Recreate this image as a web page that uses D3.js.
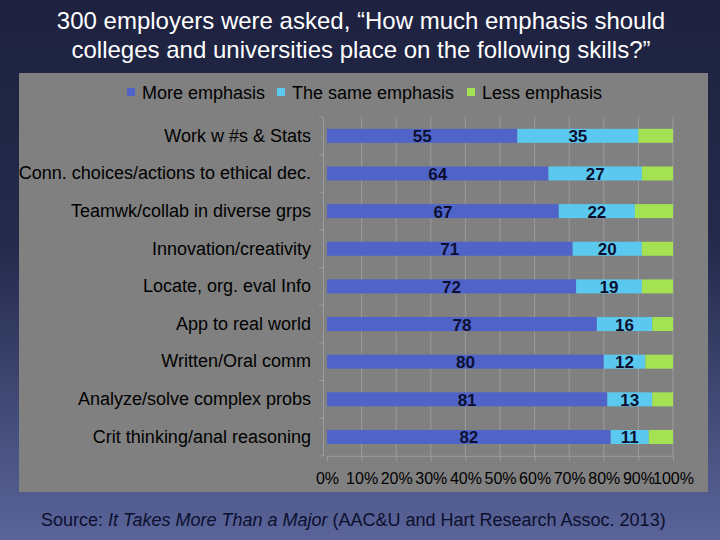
<!DOCTYPE html>
<html><head><meta charset="utf-8">
<script src="https://cdn.jsdelivr.net/npm/d3@7"></script>
<style>html,body{margin:0;padding:0;background:#1f2442;}svg{display:block;}</style>
</head><body>
<script>
const categories = ["Work w #s & Stats","Conn. choices/actions to ethical dec.","Teamwk/collab in diverse grps","Innovation/creativity","Locate, org. eval Info","App to real world","Written/Oral comm","Analyze/solve complex probs","Crit thinking/anal reasoning"];
const seriesNames = ["More emphasis","The same emphasis","Less emphasis"];
const moreEmphasis = [55,64,67,71,72,78,80,81,82];
const sameEmphasis = [35,27,22,20,19,16,12,13,11];
const lessEmphasis = [10,9,11,9,9,6,8,6,7];
const tickValues = [0,10,20,30,40,50,60,70,80,90,100];
const titleLines = ["300 employers were asked, \u201cHow much emphasis should","colleges and universities place on the following skills?\u201d"];
const colors = ["#4f63c8","#5bc9ef","#a4e253"];

const W=720,H=540;
const FONT="Liberation Sans, Arial, sans-serif";
const svg=d3.select("body").append("svg").attr("width",W).attr("height",H);
const defs=svg.append("defs");
const g=defs.append("linearGradient").attr("id","bg").attr("x1",0).attr("y1",0).attr("x2",0).attr("y2",1);
g.append("stop").attr("offset","0%").attr("stop-color","#1e2240");
g.append("stop").attr("offset","45%").attr("stop-color","#242a4b");
g.append("stop").attr("offset","100%").attr("stop-color","#5a6499");
svg.append("rect").attr("width",W).attr("height",H).attr("fill","url(#bg)");

// title
svg.selectAll("text.title").data(titleLines).join("text").attr("class","title")
  .attr("x",361).attr("y",(d,i)=>29+i*29).attr("text-anchor","middle")
  .attr("fill","#ffffff").attr("font-family",FONT).attr("font-size",24)
  .text(d=>d);

// plot panel
svg.append("rect").attr("x",19).attr("y",73).attr("width",689).attr("height",419).attr("fill","#808080");

const x=d3.scaleLinear().domain([0,100]).range([327,673]);
const y=d3.scaleBand().domain(categories).range([117,455.8]);
const barH=14;

// gridlines
svg.append("g").selectAll("line").data(tickValues.slice(1)).join("line")
  .attr("x1",d=>x(d)).attr("x2",d=>x(d)).attr("y1",117).attr("y2",455.8)
  .attr("stroke","#9c9c9c").attr("stroke-width",1);

// x axis
const xAxis=svg.append("g").attr("transform","translate(0,455.8)")
  .call(d3.axisBottom(x).tickValues(tickValues).tickFormat(d=>d+"%").tickSize(5).tickPadding(12));
xAxis.select(".domain").attr("stroke","#9c9c9c");
xAxis.selectAll(".tick line").attr("stroke","#9c9c9c");
xAxis.selectAll("text").attr("fill","#000").attr("font-family",FONT).attr("font-size",16);

// y axis
const yAxis=svg.append("g").attr("transform","translate(323,0)")
  .call(d3.axisLeft(y).tickSize(0).tickPadding(12));
yAxis.select(".domain").attr("stroke","#9c9c9c");
yAxis.selectAll("text").attr("fill","#000").attr("font-family",FONT).attr("font-size",18);
svg.append("g").selectAll("line").data(d3.range(categories.length+1)).join("line")
  .attr("x1",319).attr("x2",323).attr("y1",i=>117+i*y.step()).attr("y2",i=>117+i*y.step())
  .attr("stroke","#9c9c9c");

// stacked data
const rows=categories.map((c,i)=>({cat:c,s0:moreEmphasis[i],s1:sameEmphasis[i],s2:lessEmphasis[i]}));
const stack=d3.stack().keys(["s0","s1","s2"])(rows);
const layer=svg.append("g").selectAll("g").data(stack).join("g").attr("fill",(d,i)=>colors[i]);
layer.selectAll("rect").data(d=>d).join("rect")
  .attr("x",d=>x(d[0])).attr("width",d=>x(d[1])-x(d[0]))
  .attr("y",d=>y(d.data.cat)+y.bandwidth()/2-barH/2).attr("height",barH);

// labels for first two series
const lab=svg.append("g");
stack.slice(0,2).forEach(s=>{
  lab.selectAll(null).data(s).join("text")
    .attr("x",d=>(x(d[0])+x(d[1]))/2).attr("y",d=>y(d.data.cat)+y.bandwidth()/2+6.5)
    .attr("text-anchor","middle").attr("font-family",FONT)
    .attr("font-weight","bold").attr("font-size",17).attr("fill","#0c1030")
    .text(d=>d[1]-d[0]);
});

// legend
const legX=[127,277,467];
const leg=svg.append("g").selectAll("g").data(seriesNames).join("g")
  .attr("transform",(d,i)=>`translate(${legX[i]},0)`);
leg.append("rect").attr("x",0).attr("y",88).attr("width",8).attr("height",8).attr("fill",(d,i)=>colors[i]);
leg.append("text").attr("x",15).attr("y",99).attr("fill","#000")
  .attr("font-family",FONT).attr("font-size",18).text(d=>d);

// source
const src=svg.append("text").attr("x",41).attr("y",526).attr("fill","#0b0f2e")
  .attr("font-family",FONT).attr("font-size",18);
src.append("tspan").text("Source: ");
src.append("tspan").attr("font-style","italic").text("It Takes More Than a Major");
src.append("tspan").text(" (AAC&U and Hart Research Assoc. 2013)");
</script>
</body></html>
